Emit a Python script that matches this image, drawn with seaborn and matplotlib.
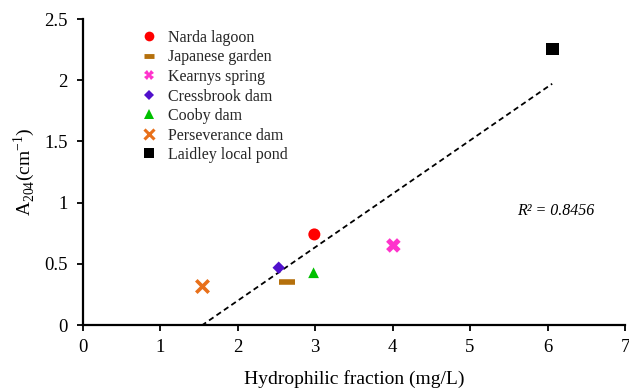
import numpy as np
import pandas as pd
import seaborn as sns
import matplotlib.pyplot as plt
from matplotlib.lines import Line2D

# values
sites = ['Narda lagoon', 'Japanese garden', 'Kearnys spring', 'Cressbrook dam',
         'Cooby dam', 'Perseverance dam', 'Laidley local pond']
hydrophilic = [2.99, 2.64, 4.01, 2.53, 2.98, 1.535, 6.06]
a204 = [0.74, 0.35, 0.65, 0.468, 0.427, 0.316, 2.255]
x_ticks = [0, 1, 2, 3, 4, 5, 6, 7]
y_ticks = [0, 0.5, 1, 1.5, 2, 2.5]
y_ticklabels = ['0', '0.5', '1', '1.5', '2', '2.5']
r2_text = 'R² = 0.8456'

colors = ['#FF0000', '#B5700C', '#FF33CC', '#5010CC', '#00C000', '#E8701A', '#000000']
markers = ['o', '_', 'X', 'D', '^', 'x', 's']
sizes = [75, 120, 110, 40, 60, 80, 85]

sns.set_theme(style='white')
plt.rcParams['font.family'] = ['Liberation Serif', 'DejaVu Serif']
plt.rcParams['mathtext.fontset'] = 'custom'
plt.rcParams['mathtext.rm'] = 'Liberation Serif'

df = pd.DataFrame({'site': sites, 'x': hydrophilic, 'y': a204})

fig, ax = plt.subplots(figsize=(6.29, 3.88), dpi=100)
fig.subplots_adjust(left=82.7/629, right=625/629, bottom=1-325/388, top=1-19/388)

# trend line (linear least squares)
sns.regplot(data=df, x='x', y='y', scatter=False, ci=None, truncate=True, ax=ax,
            line_kws={'color': 'black', 'lw': 1.3, 'ls': (0, (3, 2))})

handles = []
for i, row in df.iterrows():
    m = markers[i]
    line_art = m in ('_', 'x')
    sns.scatterplot(x=[row['x']], y=[row['y']], ax=ax, marker=m, s=sizes[i],
                    color=colors[i], edgecolor=colors[i] if line_art else 'none',
                    linewidth=4 if m == '_' else (2.6 if m == 'x' else 0),
                    zorder=3, legend=False)
    handles.append(Line2D([], [], ls='none', marker=m, color=colors[i],
                          markersize=7 if m != 'D' else 5.5,
                          markeredgewidth=3.5 if m == '_' else (2.2 if m == 'x' else 0),
                          label=row['site']))

ax.set_xlim(0, 7)
ax.set_ylim(0, 2.5)
ax.set_xticks(x_ticks)
ax.set_yticks(y_ticks)
ax.set_yticklabels(y_ticklabels)
ax.tick_params(axis='both', labelsize=13.5, direction='out', length=4, width=1.3,
               color='black', labelcolor='black', bottom=True, left=True)
ax.tick_params(axis='y', pad=7)
ax.tick_params(axis='x', pad=6)
sns.despine(ax=ax)
for sp in ['left', 'bottom']:
    ax.spines[sp].set_color('black')
    ax.spines[sp].set_linewidth(1.6)

ax.set_xlabel('Hydrophilic fraction (mg/L)', fontsize=14, color='black', labelpad=10)
ax.set_ylabel(r'A$_{\mathregular{204}}$(cm$^{\mathregular{-1}}$)', fontsize=14,
              color='black', labelpad=5)

ax.text(6.1, 0.93, r2_text, fontsize=11.5, style='italic', ha='center', va='center',
        color='black')

leg = ax.legend(handles=handles, loc='upper left', bbox_to_anchor=(0.095, 0.985),
                frameon=False, fontsize=11.5, handlelength=1.0, handletextpad=0.7,
                labelspacing=0.22, borderaxespad=0)

fig.savefig('out.png', dpi=100)
